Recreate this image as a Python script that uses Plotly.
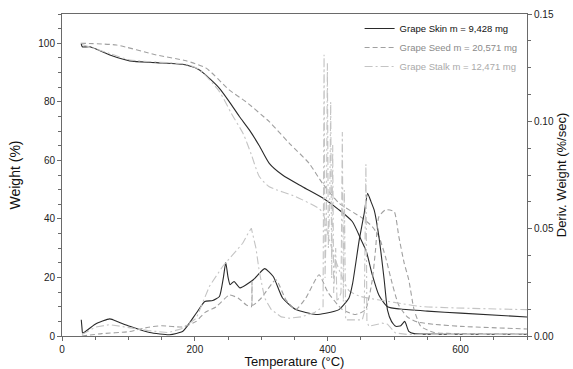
import plotly.graph_objects as go

# ---------------- data ----------------
# TG curves: temperature (°C) and weight (%)
skin_tg_t = [29, 30.5, 42, 72, 102, 142, 187, 207, 222, 237, 252, 267, 282, 297, 312, 332, 362, 392, 417, 437, 450, 458, 467, 477, 490, 510, 550, 600, 700]
skin_tg_w = [99.8, 98.8, 98.8, 96, 94, 93.4, 92.6, 90.9, 88, 84.6, 80, 75, 70.4, 65, 59, 55, 51, 47.2, 43.1, 39.1, 33, 29, 21, 14, 10, 9.2, 8.5, 7.8, 6.5]

seed_tg_t = [28, 82, 142, 187, 217, 252, 277, 312, 342, 372, 392, 417, 452, 467, 477, 487, 497, 507, 520, 535, 560, 600, 700]
seed_tg_w = [100, 99.4, 96, 94, 91.5, 84, 80, 73.2, 65.9, 59, 52.2, 45.4, 40.3, 37.4, 34, 27, 18, 10.5, 6.5, 4.8, 4, 3.3, 2.4]

stalk_tg_t = [30, 72, 102, 142, 187, 207, 237, 255, 273, 285, 297, 312, 352, 387, 393, 400, 410, 420, 432, 450, 500, 540, 700]
stalk_tg_w = [99.6, 96.5, 94.3, 93.6, 92.8, 91, 83.5, 76, 69, 62, 54.5, 51, 47.6, 43.5, 42, 35, 27, 21, 15.5, 13.5, 11.5, 10.1, 9.0]

# DTG curves: temperature (°C) and derivative weight (%/sec)
skin_dtg_t = [29, 30, 31, 33, 50, 72, 85, 102, 132, 162, 182, 202, 215, 227, 237, 243, 246.5, 250, 253, 259, 268, 288, 305, 318, 332, 352, 382, 397, 417, 432, 437.5, 447.5, 455, 460, 465, 470, 477, 485, 490, 496, 502.5, 510, 516, 522, 530, 600, 700]
skin_dtg_v = [0.0076, 0.0041, 0.0014, 0.0016, 0.0055, 0.0080, 0.0065, 0.0045, 0.0016, 0.0006, 0.0022, 0.0106, 0.0161, 0.0165, 0.0184, 0.0273, 0.0342, 0.0273, 0.0239, 0.0254, 0.0224, 0.0262, 0.0314, 0.0277, 0.0177, 0.0123, 0.0100, 0.0106, 0.0123, 0.0177, 0.0245, 0.0449, 0.0573, 0.0665, 0.0627, 0.0586, 0.0464, 0.0262, 0.0121, 0.0068, 0.0045, 0.0048, 0.0068, 0.0022, 0.0011, 0.0008, 0.0008]

seed_dtg_t = [30, 60, 100, 130, 150, 182, 202, 215, 232, 252, 265, 277, 285, 286, 287, 300, 322, 337, 352, 367, 387, 400, 422, 442, 457, 467, 472, 477, 487, 500, 507, 515, 522, 530, 540, 560, 600, 700]
seed_dtg_v = [0.0, 0.0011, 0.0020, 0.0041, 0.0048, 0.0042, 0.0068, 0.0109, 0.0136, 0.0191, 0.0177, 0.0146, 0.0136, 0.0252, 0.0143, 0.0177, 0.0262, 0.0169, 0.0123, 0.0177, 0.0285, 0.0205, 0.0123, 0.0100, 0.0123, 0.0259, 0.0402, 0.0556, 0.0588, 0.0580, 0.0464, 0.0341, 0.0262, 0.0123, 0.0045, 0.0016, 0.0011, 0.0008]

stalk_dtg_t = [30, 50, 72, 100, 130, 160, 180, 202, 222, 242, 257, 272, 280, 285, 292, 297, 305, 315, 330, 342, 360, 380, 393, 394.5, 396, 398, 399.5, 401, 403, 404.5, 406, 407.5, 409, 412, 414, 420, 422, 423.5, 425, 427, 452, 455, 457.5, 459, 462, 482, 490, 502, 520, 700]
stalk_dtg_v = [0.0007, 0.0041, 0.0053, 0.0041, 0.0025, 0.0016, 0.0034, 0.0082, 0.0232, 0.0325, 0.0378, 0.0432, 0.0477, 0.0502, 0.0409, 0.0300, 0.0177, 0.0123, 0.0089, 0.0083, 0.0089, 0.0109, 0.0136, 0.1310, 0.0270, 0.0550, 0.1270, 0.0410, 0.0610, 0.1090, 0.0270, 0.0890, 0.0200, 0.0410, 0.0160, 0.0200, 0.0950, 0.0160, 0.0680, 0.0075, 0.0075, 0.0109, 0.0800, 0.0068, 0.0045, 0.0060, 0.0055, 0.0014, 0.0007, 0.0007]

names = ["Grape Skin m = 9,428 mg", "Grape Seed m = 20,571 mg", "Grape Stalk m = 12,471 mg"]
colors = ["#2a2a2a", "#a0a0a0", "#c4c4c4"]
dashes = ["solid", "5px,3px", "8px,3px,2px,3px"]

# ---------------- figure ----------------
fig = go.Figure()

tg = [(skin_tg_t, skin_tg_w), (seed_tg_t, seed_tg_w), (stalk_tg_t, stalk_tg_w)]
dtg = [(skin_dtg_t, skin_dtg_v), (seed_dtg_t, seed_dtg_v), (stalk_dtg_t, stalk_dtg_v)]

for i in range(3):
    label = '<span style="color:%s">%s</span>' % (["#111", "#8a8a8a", "#aaaaaa"][i], names[i])
    fig.add_trace(go.Scatter(
        x=tg[i][0], y=tg[i][1], mode="lines", name=label, legendgroup=str(i),
        line=dict(color=colors[i], width=1.1, dash=dashes[i], shape="spline", smoothing=0.6),
        yaxis="y"))
for i in range(3):
    fig.add_trace(go.Scatter(
        x=dtg[i][0], y=dtg[i][1], mode="lines", name=names[i], legendgroup=str(i), showlegend=False,
        line=dict(color=colors[i], width=1.1, dash=dashes[i],
                  shape="linear" if i == 2 else "spline", smoothing=0.5),
        yaxis="y2"))

axis_font = dict(family="Liberation Sans, Arial, sans-serif", size=10, color="#222")
line_col = "#6a6a6a"

fig.update_layout(
    width=573, height=369,
    margin=dict(l=62, r=46, t=14, b=33),
    paper_bgcolor="white", plot_bgcolor="white",
    font=dict(family="Liberation Sans, Arial, sans-serif", color="#222"),
    showlegend=True,
    legend=dict(x=0.64, y=1.0, xanchor="left", yanchor="top",
                bgcolor="rgba(0,0,0,0)", borderwidth=0,
                font=dict(family="Liberation Sans, Arial, sans-serif", size=9.5),
                tracegroupgap=0, itemwidth=30),
    xaxis=dict(range=[0, 700], tickvals=[0, 200, 400, 600], ticks="outside", ticklen=4,
               tickcolor=line_col, showline=True, linecolor=line_col, linewidth=1, mirror=True,
               showgrid=False, zeroline=False, tickfont=axis_font, automargin=False,
               minor=dict(dtick=50, tick0=0, ticks="outside", ticklen=3, tickcolor=line_col, showgrid=False),
               title=dict(text="Temperature (°C)", font=dict(size=13, family="Liberation Sans, Arial, sans-serif", color="#111"), standoff=4)),
    yaxis=dict(range=[0, 110], tickvals=[0, 20, 40, 60, 80, 100], ticks="outside", ticklen=4,
               tickcolor=line_col, showline=True, linecolor=line_col, linewidth=1,
               showgrid=False, zeroline=False, tickfont=axis_font, automargin=False,
               minor=dict(dtick=5, tick0=0, ticks="outside", ticklen=3, tickcolor=line_col, showgrid=False),
               title=dict(text="Weight (%)", font=dict(size=14, family="Liberation Sans, Arial, sans-serif", color="#111"), standoff=14)),
    yaxis2=dict(range=[0, 0.15], overlaying="y", side="right", tickvals=[0, 0.05, 0.10, 0.15],
                ticktext=["0.00", "0.05", "0.10", "0.15"], ticks="outside", ticklen=4,
                tickcolor=line_col, showline=True, linecolor=line_col, linewidth=1,
                showgrid=False, zeroline=False, tickfont=axis_font, automargin=False,
                minor=dict(dtick=0.0125, tick0=0, ticks="outside", ticklen=3, tickcolor=line_col, showgrid=False),
                title=dict(text="Deriv. Weight (%/sec)", font=dict(size=13, family="Liberation Sans, Arial, sans-serif", color="#111"), standoff=2)),
)

fig.write_html("out.html")
